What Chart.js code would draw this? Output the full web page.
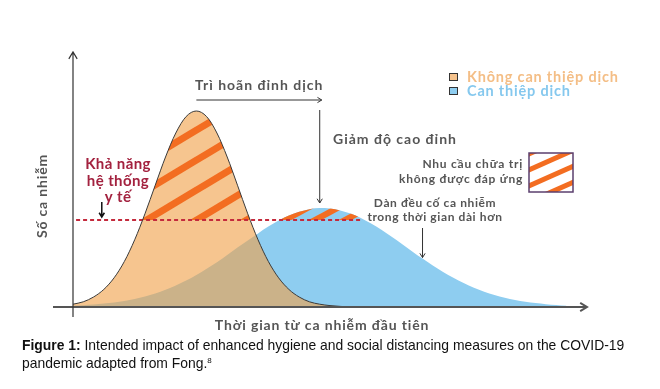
<!DOCTYPE html>
<html>
<head>
<meta charset="utf-8">
<script src="https://cdn.jsdelivr.net/npm/chart.js@4.4.1/dist/chart.umd.min.js"></script>
<style>
  html, body { margin: 0; padding: 0; background: #fff; }
  #wrap { position: relative; width: 660px; height: 389px; }
  #caption {
    position: absolute; left: 22px; top: 336px; width: 638px;
    font: 13.9px 'Liberation Sans', Arial, sans-serif; line-height: 18px; color: #111;
  }
  #caption sup { font-size: 8px; vertical-align: 5px; line-height: 0; }
</style>
</head>
<body>
<div id="wrap">
  <canvas id="chart" width="660" height="389"></canvas>
  <div id="caption"><b>Figure 1:</b> Intended impact of enhanced hygiene and social distancing measures on the COVID-19<br>pandemic adapted from Fong.<sup>8</sup></div>
</div>
<script>
// Thời gian (đơn vị tùy ý 0–100), số ca nhiễm (thang 0–127.5)
const timeNoAction = [0, 2, 4, 6, 8, 10, 12, 14, 16, 18, 20, 22, 24, 26, 28, 30, 32, 34, 36, 38, 40, 42, 44, 46, 48, 50, 52, 54];
const casesNoAction = [1.4, 2.6, 5.0, 8.8, 14.6, 22.8, 33.6, 46.6, 60.9, 75.0, 87.0, 95.2, 98, 95.2, 87.0, 75.0, 60.9, 46.6, 33.6, 22.8, 14.6, 8.8, 5.0, 2.6, 1.4, 0.7, 0.3, 0];

const timeAction = [0, 2, 4, 6, 8, 10, 12, 14, 16, 18, 20, 22, 24, 26, 28, 30, 32, 34, 36, 38, 40, 42, 44, 46, 48,
                    50, 52, 54, 56, 58, 60, 62, 64, 66, 68, 70, 72, 74, 76, 78, 80, 82, 84, 86, 88, 90, 92, 94, 96];
const casesAction = [0.6, 0.9, 1.2, 1.7, 2.3, 3.0, 4.0, 5.3, 6.8, 8.6, 10.8, 13.2, 16.0, 19.1, 22.4, 26.0, 29.7, 33.3, 36.8, 40.2, 43.2, 45.7, 47.6, 48.9, 49.5,
                     49.3, 48.3, 46.7, 44.5, 41.7, 38.6, 35.1, 31.5, 27.8, 24.2, 20.8, 17.5, 14.6, 12.0, 9.6, 7.6, 6.0, 4.6, 3.5, 2.6, 2.0, 1.4, 1.0, 0.6];

// Khả năng hệ thống y tế
const capacityTime = [0.6, 56.2];
const capacityCases = [43.5, 43.5];

const seriesLabels = ['Không can thiệp dịch', 'Can thiệp dịch'];

const colors = {
    orangeFill: 'rgba(241, 161, 75, 0.62)',
    orangeSolid: '#f5c28c',
    orangeText: '#f4be86',
    blueFill: '#8ecdf0',
    blueText: '#85c8ee',
    stripe: '#f36d21',
    capacity: '#c42a3c',
    crimson: '#a3223f',
    gray: '#555555',
    outline: '#3a3a3a',
    box: '#5b3f6e'
};

function toPoints(xs, ys) {
    return xs.map((v, i) => ({ x: v, y: ys[i] }));
}

// Motif hachuré (bandes orange)
function makeHatch(w, h, lw, shift) {
    const tile = document.createElement('canvas');
    tile.width = w;
    tile.height = h;
    const c = tile.getContext('2d');
    const k = h / w;
    c.strokeStyle = colors.stripe;
    c.lineWidth = lw;
    for (const dy of [-h, 0, h]) {
        c.beginPath();
        c.moveTo(-10, h + 10 * k + dy);
        c.lineTo(w + 10, -10 * k + dy);
        c.stroke();
    }
    const p = document.getElementById('chart').getContext('2d').createPattern(tile, 'repeat');
    p.setTransform(new DOMMatrix([1, 0, 0, 1, 0, shift]));
    return p;
}
const hatch = makeHatch(50, 30, 7, 8);
const peakHatch = makeHatch(30, 16, 6, 4);
const boxHatch = makeHatch(36, 16, 5, 5);

function arrow(ctx, x1, y1, x2, y2, size, color, width) {
    const a = Math.atan2(y2 - y1, x2 - x1);
    ctx.save();
    ctx.strokeStyle = color;
    ctx.lineWidth = width;
    ctx.beginPath();
    ctx.moveTo(x1, y1);
    ctx.lineTo(x2, y2);
    ctx.moveTo(x2 - size * Math.cos(a - 0.55), y2 - size * Math.sin(a - 0.55));
    ctx.lineTo(x2, y2);
    ctx.lineTo(x2 - size * Math.cos(a + 0.55), y2 - size * Math.sin(a + 0.55));
    ctx.stroke();
    ctx.restore();
}

const decor = {
    id: 'decor',
    afterDatasetsDraw(chart) {
        const { ctx, scales: { x, y } } = chart;
        const left = x.getPixelForValue(0);
        const right = x.getPixelForValue(100);
        const base = y.getPixelForValue(0);
        const top = y.getPixelForValue(127.5);

        // axes
        arrow(ctx, left - 20, base, right, base, 8, '#555', 2);
        arrow(ctx, left, base + 10, left, top, 8, '#333', 1.2);

        ctx.save();
        ctx.textBaseline = 'middle';
        ctx.letterSpacing = '1px';

        // Trì hoãn đỉnh dịch
        const px1 = x.getPixelForValue(24), px2 = x.getPixelForValue(48);
        ctx.fillStyle = colors.gray;
        ctx.font = 'bold 14px Lato';
        ctx.textAlign = 'left';
        ctx.fillText('Trì hoãn đỉnh dịch', 195, 85);
        arrow(ctx, px1, 100, px2 + 2, 100, 5, '#333', 1);
        arrow(ctx, px2, 110, px2, y.getPixelForValue(52), 5, '#333', 1);

        ctx.fillText('Giảm độ cao đỉnh', 333, 139);

        // legend
        const leg = [[colors.orangeSolid, colors.orangeText, 77], [colors.blueFill, colors.blueText, 91]];
        ctx.letterSpacing = '0.8px';
        leg.forEach(([fill, txt, cy], i) => {
            ctx.fillStyle = fill;
            ctx.fillRect(449, cy - 4, 9, 8);
            ctx.strokeStyle = '#333';
            ctx.lineWidth = 1;
            ctx.strokeRect(449.5, cy - 3.5, 8, 7);
            ctx.fillStyle = txt;
            ctx.font = 'bold 14.5px Lato';
            ctx.fillText(seriesLabels[i], 467, cy);
        });

        // unmet demand box
        ctx.fillStyle = boxHatch;
        ctx.fillRect(529, 153, 44, 39);
        ctx.strokeStyle = colors.box;
        ctx.lineWidth = 1.5;
        ctx.strokeRect(529, 153, 44, 39);
        ctx.fillStyle = colors.gray;
        ctx.font = 'bold 12px Lato';
        ctx.textAlign = 'right';
        ctx.letterSpacing = '0.75px';
        ctx.fillText('Nhu cầu chữa trị', 523, 164);
        ctx.fillText('không được đáp ứng', 523, 179);

        // spread out
        ctx.textAlign = 'center';
        ctx.letterSpacing = '0.6px';
        ctx.fillText('Dàn đều cố ca nhiễm', 435, 203);
        ctx.fillText('trong thời gian dài hơn', 435, 217);
        const sx = x.getPixelForValue(68);
        arrow(ctx, sx, 228, sx, y.getPixelForValue(24.2) - 1, 5, '#333', 1);

        // capacity
        ctx.fillStyle = colors.crimson;
        ctx.font = 'bold 15px Lato';
        ctx.letterSpacing = '0.4px';
        ctx.fillText('Khả năng', 118, 164);
        ctx.fillText('hệ thống', 118, 181);
        ctx.fillText('y tế', 118, 197);
        const cx = x.getPixelForValue(5.6);
        arrow(ctx, cx, 202, cx, y.getPixelForValue(45), 5, '#111', 1.5);

        // axis titles
        ctx.fillStyle = colors.gray;
        ctx.font = 'bold 14px Lato';
        ctx.letterSpacing = '0.85px';
        ctx.fillText('Thời gian từ ca nhiễm đầu tiên', 322, 325);
        ctx.translate(42, 196);
        ctx.rotate(-Math.PI / 2);
        ctx.fillText('Số ca nhiễm', 0, 0);
        ctx.restore();
    }
};

new Chart(document.getElementById('chart'), {
    type: 'line',
    data: {
        datasets: [
            {
                label: 'outline',
                data: toPoints(timeNoAction, casesNoAction),
                borderColor: colors.outline,
                borderWidth: 1,
                fill: false,
                order: 0
            },
            {
                label: 'capacity',
                data: toPoints(capacityTime, capacityCases),
                borderColor: colors.capacity,
                borderWidth: 1.8,
                borderDash: [4, 3],
                fill: false,
                order: 1
            },
            {
                label: 'unmet-action',
                data: toPoints(timeAction, casesAction),
                borderColor: 'rgba(0,0,0,0)',
                fill: { target: { value: capacityCases[0] }, above: peakHatch, below: 'rgba(0,0,0,0)' },
                order: 2
            },
            {
                label: 'unmet-noaction',
                data: toPoints(timeNoAction, casesNoAction),
                borderColor: 'rgba(0,0,0,0)',
                fill: { target: { value: capacityCases[0] }, above: hatch, below: 'rgba(0,0,0,0)' },
                order: 3
            },
            {
                label: seriesLabels[0],
                data: toPoints(timeNoAction, casesNoAction),
                borderColor: 'rgba(0,0,0,0)',
                backgroundColor: colors.orangeFill,
                fill: 'origin',
                order: 4
            },
            {
                label: seriesLabels[1],
                data: toPoints(timeAction, casesAction),
                borderColor: 'rgba(0,0,0,0)',
                backgroundColor: colors.blueFill,
                fill: 'origin',
                order: 5
            }
        ]
    },
    options: {
        responsive: false,
        animation: false,
        events: [],
        layout: { padding: { left: 73, right: 73, top: 52, bottom: 82 } },
        elements: {
            point: { radius: 0 },
            line: { cubicInterpolationMode: 'monotone' }
        },
        plugins: {
            legend: { display: false },
            tooltip: { enabled: false }
        },
        scales: {
            x: { type: 'linear', min: 0, max: 100, display: false },
            y: { min: 0, max: 127.5, display: false }
        }
    },
    plugins: [decor]
});
</script>
</body>
</html>
